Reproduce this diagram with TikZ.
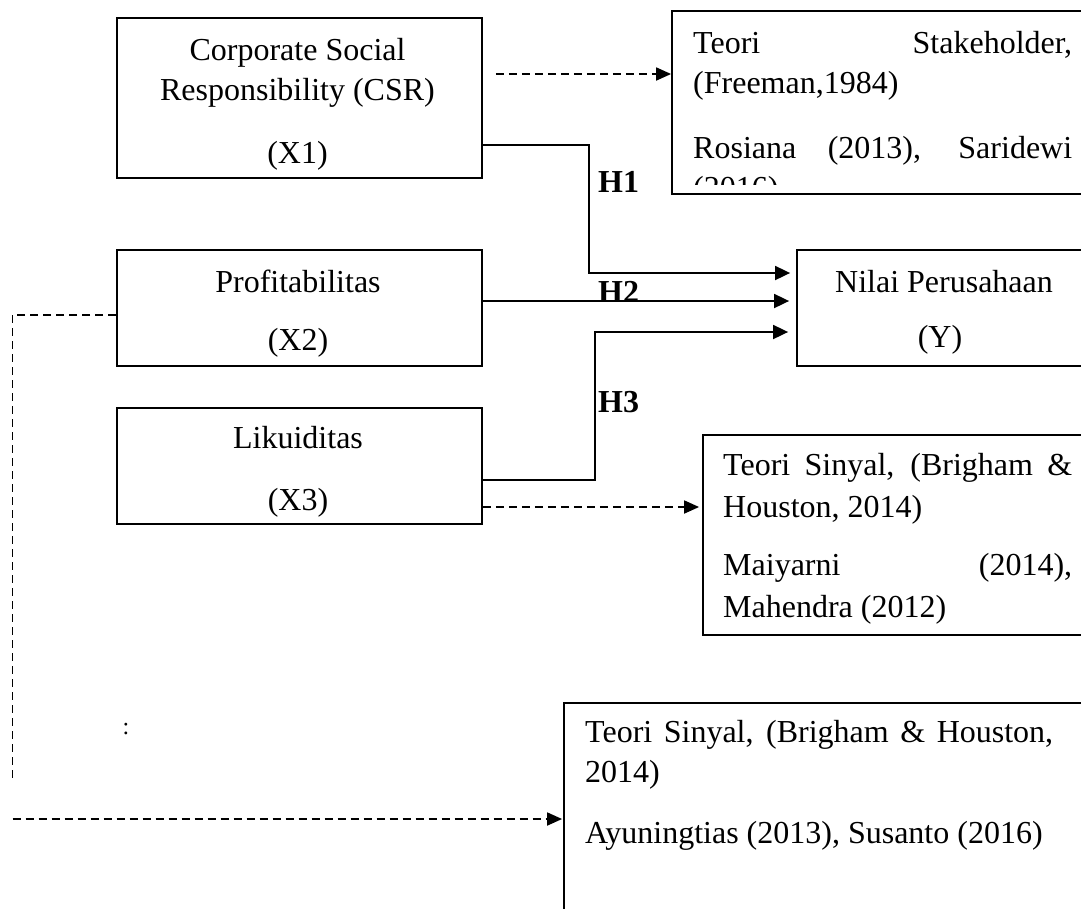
\documentclass[tikz,border=0pt]{standalone}
\usepackage{fontspec}
\setmainfont{Liberation Serif}
\usetikzlibrary{arrows.meta}
\begin{document}
\begin{tikzpicture}[x=1pt,y=-1pt,
  txt/.style={inner sep=0pt, anchor=base, font=\fontsize{32pt}{40pt}\selectfont},
  ltxt/.style={txt, anchor=base west},
  hlab/.style={txt, anchor=base west, font=\fontsize{32pt}{40pt}\selectfont\bfseries},
  box/.style={draw, line width=1.8pt, inner sep=0pt},
  arr/.style={line width=1.8pt, -{Triangle[length=15pt,width=14pt]}},
  dline/.style={line width=1.8pt, dash pattern=on 8pt off 5pt},
  darr/.style={dline, -{Triangle[length=15pt,width=13pt]}}]
\clip (0,0) rectangle (1081,908);
\fill[white] (0,0) rectangle (1081,908);
% boxes
\node[box, minimum width=365pt, minimum height=160pt] (x1) at (299.5,98) {};
\node[box, minimum width=365pt, minimum height=116pt] (x2) at (299.5,308) {};
\node[box, minimum width=365pt, minimum height=116pt] (x3) at (299.5,466) {};
\node[box, minimum width=423pt, minimum height=183pt] (tr) at (883.5,102.5) {};
\node[box, minimum width=298pt, minimum height=116pt] (ny) at (946,308) {};
\node[box, minimum width=392pt, minimum height=200pt] (mr) at (899,535) {};
\node[box, minimum width=531pt, minimum height=227pt] (bt) at (829.5,816.5) {};
% box texts
\node[txt] (t1a) at (297.5,60) {Corporate Social};
\node[txt] (t1b) at (297.5,100) {Responsibility (CSR)};
\node[txt] (t1c) at (297.5,163) {(X1)};
\node[txt] (t2a) at (298,292) {Profitabilitas};
\node[txt] (t2b) at (298,350) {(X2)};
\node[txt] (t3a) at (298,448) {Likuiditas};
\node[txt] (t3b) at (298,510) {(X3)};
\node[txt] (tya) at (944,292) {Nilai Perusahaan};
\node[txt] (tyb) at (940,347) {(Y)};
% top right reference box
\begin{scope}
\clip (672,11) rectangle (1081,184);
\node[ltxt] (r1a) at (693,53) {\makebox[379pt][s]{Teori Stakeholder,}};
\node[ltxt] (r1b) at (693,93) {(Freeman,1984)};
\node[ltxt] (r1c) at (693,158) {\makebox[379pt][s]{Rosiana (2013), Saridewi}};
\node[ltxt] (r1d) at (693,198) {(2016)};
\end{scope}
% middle right reference box
\node[ltxt] (r2a) at (723,475) {\makebox[349pt][s]{Teori Sinyal, (Brigham \&}};
\node[ltxt] (r2b) at (723,517) {Houston, 2014)};
\node[ltxt] (r2c) at (723,575) {\makebox[349pt][s]{Maiyarni (2014),}};
\node[ltxt] (r2d) at (723,617) {Mahendra (2012)};
% bottom reference box
\node[ltxt] (r3a) at (585,742) {\makebox[468pt][s]{Teori Sinyal, (Brigham \& Houston,}};
\node[ltxt] (r3b) at (585,782) {2014)};
\node[ltxt] (r3c) at (585,843) {Ayuningtias (2013), Susanto (2016)};
% colon
\node[inner sep=0pt, anchor=base, font=\fontsize{24pt}{28pt}\selectfont] (col) at (126,734) {:};
% hypothesis labels
\node[hlab] (h1) at (598,192) {H1};
\begin{scope}
\clip (590,270) rectangle (660,300.5);
\node[hlab] (h2) at (598,302) {H2};
\end{scope}
\node[hlab] (h3) at (598,412) {H3};
% solid arrows
\draw[arr, shorten >=6pt] ([yshift=-47pt]x1.east) -| (589,273) -- ([yshift=35pt]ny.west);
\draw[arr, shorten >=7pt] ([yshift=7pt]x2.east) -- ([yshift=7pt]ny.west);
\draw[arr, shorten >=8pt] ([yshift=-14pt]x3.east) -| (595,332) -- ([yshift=-24pt]ny.west);
% dashed arrows
\coordinate (s1) at ([xshift=13pt,yshift=24pt]x1.east);
\draw[darr] (s1) -- (s1 -| tr.west);
\draw[darr, shorten >=3pt] ([yshift=-41pt]x3.east) -- ([yshift=28pt]mr.west);
\coordinate (d1) at (12.5,778);
\draw[dline] ([yshift=-7pt]x2.west) -| (d1);
\coordinate (d2) at (12.5,819);
\draw[darr, shorten >=1pt] (d2) -- (d2 -| bt.west);
\end{tikzpicture}
\end{document}
